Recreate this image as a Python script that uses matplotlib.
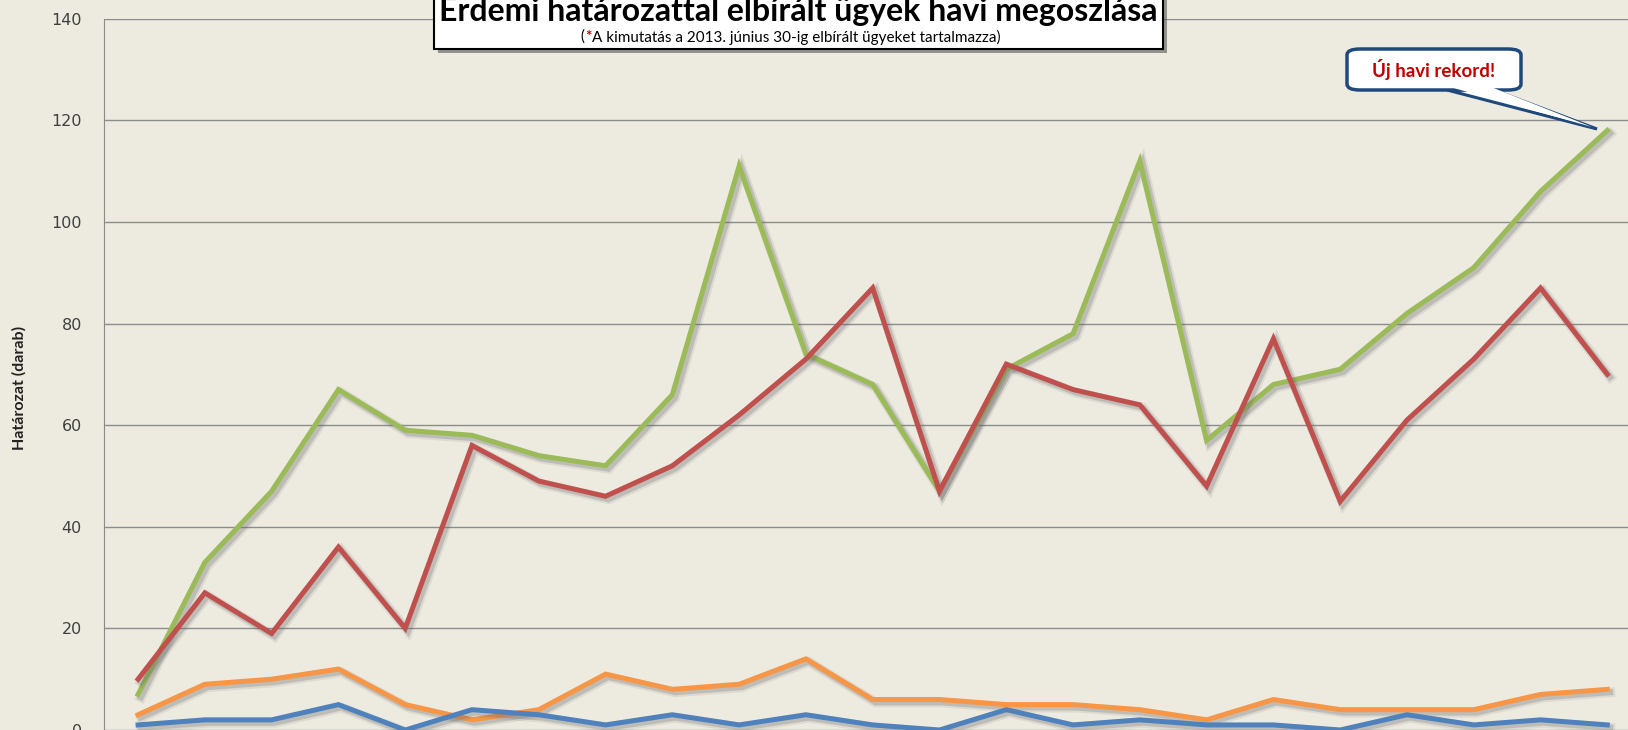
import matplotlib
matplotlib.use("Agg")
import matplotlib.pyplot as plt
import matplotlib.patheffects as pe
from matplotlib.patches import FancyBboxPatch, Polygon, Rectangle

# havi adatok (23 hónap)
honapok = list(range(23))
zold = [7, 33, 47, 67, 59, 58, 54, 52, 66, 111, 74, 68, 47, 71, 78, 112, 57, 68, 71, 82, 91, 106, 118]
piros = [10, 27, 19, 36, 20, 56, 49, 46, 52, 62, 73, 87, 47, 72, 67, 64, 48, 77, 45, 61, 73, 87, 70]
narancs = [3, 9, 10, 12, 5, 2, 4, 11, 8, 9, 14, 6, 6, 5, 5, 4, 2, 6, 4, 4, 4, 7, 8]
kek = [1, 2, 2, 5, 0, 4, 3, 1, 3, 1, 3, 1, 0, 4, 1, 2, 1, 1, 0, 3, 1, 2, 1]

y_ticks = [0, 20, 40, 60, 80, 100, 120, 140]
cim = "Érdemi határozattal elbírált ügyek havi megoszlása"
alcim = "A kimutatás a 2013. június 30-ig elbírált ügyeket tartalmazza)"
y_cimke = "Határozat (darab)"
rekord = "Új havi rekord!"

W, H = 1628, 730
hatter = "#EDEBE0"


def fx(px):
    return px / W


def fy(py):
    return 1 - py / H


fig = plt.figure(figsize=(W / 100, H / 100), dpi=100, facecolor=hatter)
ax = fig.add_axes([fx(104), 0, 1 - fx(104), 1 - 18.7 / H])
ax.set_facecolor(hatter)

# elmosott árnyék a vonalak alatt
arnyek = [pe.SimpleLineShadow(offset=(2.2, -2.2), shadow_color="#666666", alpha=0.12, linewidth=7),
          pe.SimpleLineShadow(offset=(2, -2), shadow_color="#666666", alpha=0.25, linewidth=4.5),
          pe.Normal()]
for adat, szin, z in [(zold, "#9BBB59", 3), (piros, "#C0504D", 4),
                      (narancs, "#F79646", 5), (kek, "#4F81BD", 6)]:
    ax.plot(honapok, adat, color=szin, lw=3.6, zorder=z,
            solid_joinstyle="miter", path_effects=arnyek)

ax.set_xlim(-0.51, 22.31)
ax.set_ylim(0, 140)
ax.set_yticks(y_ticks)
ax.set_xticks([])
ax.grid(axis="y", color="#8C8C8C", lw=1)
ax.set_axisbelow(True)
for s in ["top", "right", "bottom"]:
    ax.spines[s].set_visible(False)
ax.spines["left"].set_color("#8C8C8C")
ax.tick_params(axis="y", length=0, pad=16, labelsize=11.5, labelcolor="#404040")

fig.text(fx(19), fy(388), y_cimke, rotation=90, ha="center", va="center",
         fontsize=11.5, fontweight="bold", color="#222222", family="Lato")

# címdoboz
fig.patches.append(Rectangle((fx(438), fy(53)), fx(1167) - fx(438), fy(-10) - fy(53),
                             transform=fig.transFigure, facecolor="#555555",
                             edgecolor="none", alpha=0.6, zorder=9))
fig.patches.append(Rectangle((fx(434), fy(49)), fx(1163) - fx(434), fy(-10) - fy(49),
                             transform=fig.transFigure, facecolor="white",
                             edgecolor="black", lw=1.5, zorder=10))
fig.text(fx(798), fy(21), cim, ha="center", va="baseline", fontsize=23,
         fontweight="bold", family="Lato", zorder=11)
fig.text(fx(580), fy(37), "(", ha="left", va="center", fontsize=11,
         family="Lato", zorder=11)
fig.text(fx(585), fy(37), "*", ha="left", va="center", fontsize=11,
         family="Lato", color="#C00000", fontweight="bold", zorder=11)
fig.text(fx(592), fy(37), alcim, ha="left", va="center", fontsize=11,
         family="Lato", zorder=11)

# rekord-buborék
kek_sotet = "#1F497D"
fig.patches.append(Polygon([(fx(1447), fy(90)), (fx(1597), fy(129)), (fx(1494), fy(90))],
                           closed=True, transform=fig.transFigure, facecolor="white",
                           edgecolor=kek_sotet, lw=2.2, zorder=10))
fig.patches.append(FancyBboxPatch((fx(1347), fy(90)), fx(1521) - fx(1347), fy(49) - fy(90),
                                  boxstyle="round,pad=0,rounding_size=0.008",
                                  transform=fig.transFigure, facecolor="white",
                                  edgecolor=kek_sotet, lw=2.5, zorder=11))
fig.patches.append(Polygon([(fx(1450), fy(87)), (fx(1592), fy(127)), (fx(1491), fy(87))],
                           closed=True, transform=fig.transFigure, facecolor="white",
                           edgecolor="none", zorder=12))
fig.text(fx(1434), fy(70), rekord, ha="center", va="center", fontsize=13.5,
         fontweight="bold", color="#C00000", family="Lato", zorder=13)

fig.savefig("out.png", dpi=100, facecolor=hatter)
